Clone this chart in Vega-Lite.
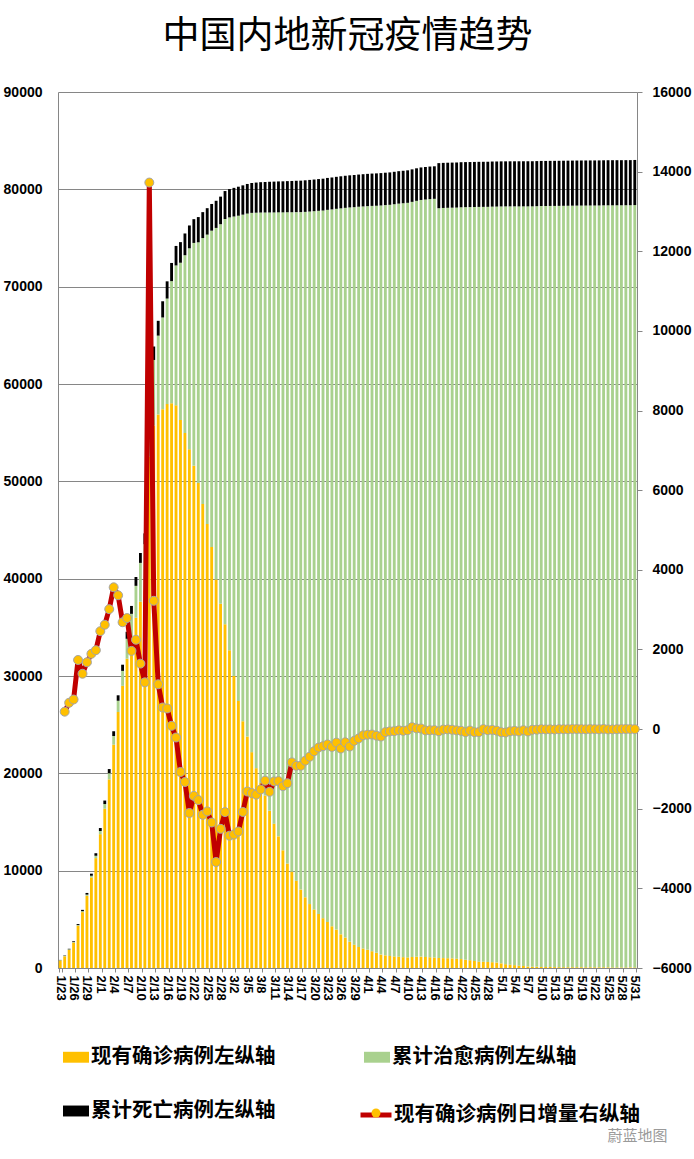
{
  "$schema": "https://vega.github.io/schema/vega-lite/v6.json",
  "width": 579,
  "height": 876,
  "autosize": {"type": "none"},
  "padding": {"left": 58, "top": 92, "right": 57, "bottom": 191},
  "background": "white",
  "title": {"text": "中国内地新冠疫情趋势", "font": "Noto Sans CJK SC", "fontSize": 37, "fontWeight": "normal", "color": "#000000", "anchor": "middle", "frame": "group", "offset": 29},
  "config": {"view": {"stroke": null}, "font": "Liberation Sans", "legend": {"padding": 0}},
  "data": {"values": [
    {"d":"1/23","s1":771,"s2":34,"s3":25},
    {"d":"1/24","s1":1208,"s2":38,"s3":41,"inc":437},
    {"d":"1/25","s1":1870,"s2":49,"s3":56,"inc":662},
    {"d":"1/26","s1":2613,"s2":51,"s3":80,"inc":743},
    {"d":"1/27","s1":4349,"s2":60,"s3":106,"inc":1736},
    {"d":"1/28","s1":5739,"s2":103,"s3":132,"inc":1390},
    {"d":"1/29","s1":7417,"s2":124,"s3":170,"inc":1678},
    {"d":"1/30","s1":9308,"s2":171,"s3":213,"inc":1891},
    {"d":"1/31","s1":11289,"s2":243,"s3":259,"inc":1981},
    {"d":"2/1","s1":13748,"s2":328,"s3":304,"inc":2459},
    {"d":"2/2","s1":16369,"s2":475,"s3":361,"inc":2621},
    {"d":"2/3","s1":19381,"s2":632,"s3":425,"inc":3012},
    {"d":"2/4","s1":22942,"s2":892,"s3":490,"inc":3561},
    {"d":"2/5","s1":26302,"s2":1153,"s3":563,"inc":3360},
    {"d":"2/6","s1":28985,"s2":1540,"s3":636,"inc":2683},
    {"d":"2/7","s1":31774,"s2":2050,"s3":722,"inc":2789},
    {"d":"2/8","s1":33738,"s2":2649,"s3":811,"inc":1964},
    {"d":"2/9","s1":35982,"s2":3281,"s3":908,"inc":2244},
    {"d":"2/10","s1":37626,"s2":3996,"s3":1016,"inc":1644},
    {"d":"2/11","s1":38800,"s2":4740,"s3":1113,"inc":1174},
    {"d":"2/12","s1":52526,"s2":5911,"s3":1367,"inc":13726},
    {"d":"2/13","s1":55748,"s2":6723,"s3":1380,"inc":3222},
    {"d":"2/14","s1":56873,"s2":8096,"s3":1523,"inc":1125},
    {"d":"2/15","s1":57416,"s2":9419,"s3":1665,"inc":543},
    {"d":"2/16","s1":57934,"s2":10844,"s3":1770,"inc":518},
    {"d":"2/17","s1":58016,"s2":12552,"s3":1868,"inc":82},
    {"d":"2/18","s1":57805,"s2":14376,"s3":2004,"inc":-211},
    {"d":"2/19","s1":56303,"s2":16155,"s3":2118,"inc":-1077},
    {"d":"2/20","s1":54965,"s2":18264,"s3":2236,"inc":-1329},
    {"d":"2/21","s1":53284,"s2":20659,"s3":2345,"inc":-2107},
    {"d":"2/22","s1":51606,"s2":22888,"s3":2442,"inc":-1678},
    {"d":"2/23","s1":49824,"s2":24734,"s3":2592,"inc":-1782},
    {"d":"2/24","s1":47672,"s2":27323,"s3":2663,"inc":-2152},
    {"d":"2/25","s1":45604,"s2":29745,"s3":2715,"inc":-2068},
    {"d":"2/26","s1":43258,"s2":32495,"s3":2744,"inc":-2346},
    {"d":"2/27","s1":39919,"s2":36117,"s3":2788,"inc":-3339},
    {"d":"2/28","s1":37414,"s2":39002,"s3":2835,"inc":-2505},
    {"d":"2/29","s1":35329,"s2":41625,"s3":2870,"inc":-2085},
    {"d":"3/1","s1":32652,"s2":44462,"s3":2912,"inc":-2677},
    {"d":"3/2","s1":30004,"s2":47204,"s3":2943,"inc":-2648},
    {"d":"3/3","s1":27433,"s2":49856,"s3":2981,"inc":-2571},
    {"d":"3/4","s1":25352,"s2":52045,"s3":3012,"inc":-2081},
    {"d":"3/5","s1":23784,"s2":53726,"s3":3042,"inc":-1568},
    {"d":"3/6","s1":22177,"s2":55404,"s3":3070,"inc":-1607},
    {"d":"3/7","s1":20533,"s2":57065,"s3":3097,"inc":-1644},
    {"d":"3/8","s1":19016,"s2":58600,"s3":3119,"inc":-1517},
    {"d":"3/9","s1":17721,"s2":59897,"s3":3136,"inc":-1295},
    {"d":"3/10","s1":16145,"s2":61475,"s3":3158,"inc":-1576},
    {"d":"3/11","s1":14831,"s2":62793,"s3":3169,"inc":-1314},
    {"d":"3/12","s1":13526,"s2":64111,"s3":3176,"inc":-1305},
    {"d":"3/13","s1":12094,"s2":65541,"s3":3189,"inc":-1432},
    {"d":"3/14","s1":10734,"s2":66911,"s3":3199,"inc":-1360},
    {"d":"3/15","s1":9898,"s2":67749,"s3":3213,"inc":-836},
    {"d":"3/16","s1":8976,"s2":68679,"s3":3226,"inc":-922},
    {"d":"3/17","s1":8056,"s2":69601,"s3":3237,"inc":-920},
    {"d":"3/18","s1":7263,"s2":70420,"s3":3245,"inc":-793},
    {"d":"3/19","s1":6569,"s2":71150,"s3":3248,"inc":-694},
    {"d":"3/20","s1":6013,"s2":71740,"s3":3255,"inc":-556},
    {"d":"3/21","s1":5549,"s2":72244,"s3":3261,"inc":-464},
    {"d":"3/22","s1":5120,"s2":72703,"s3":3270,"inc":-429},
    {"d":"3/23","s1":4735,"s2":73159,"s3":3277,"inc":-385},
    {"d":"3/24","s1":4287,"s2":73650,"s3":3281,"inc":-448},
    {"d":"3/25","s1":3947,"s2":74051,"s3":3287,"inc":-340},
    {"d":"3/26","s1":3460,"s2":74588,"s3":3292,"inc":-487},
    {"d":"3/27","s1":3128,"s2":74971,"s3":3295,"inc":-332},
    {"d":"3/28","s1":2691,"s2":75448,"s3":3300,"inc":-437},
    {"d":"3/29","s1":2396,"s2":75770,"s3":3304,"inc":-295},
    {"d":"3/30","s1":2161,"s2":76052,"s3":3305,"inc":-235},
    {"d":"3/31","s1":2004,"s2":76238,"s3":3312,"inc":-157},
    {"d":"4/1","s1":1863,"s2":76408,"s3":3318,"inc":-141},
    {"d":"4/2","s1":1727,"s2":76571,"s3":3322,"inc":-136},
    {"d":"4/3","s1":1562,"s2":76751,"s3":3326,"inc":-165},
    {"d":"4/4","s1":1376,"s2":76964,"s3":3329,"inc":-186},
    {"d":"4/5","s1":1299,"s2":77078,"s3":3331,"inc":-77},
    {"d":"4/6","s1":1242,"s2":77167,"s3":3331,"inc":-57},
    {"d":"4/7","s1":1190,"s2":77279,"s3":3333,"inc":-52},
    {"d":"4/8","s1":1160,"s2":77370,"s3":3335,"inc":-30},
    {"d":"4/9","s1":1116,"s2":77455,"s3":3336,"inc":-44},
    {"d":"4/10","s1":1089,"s2":77525,"s3":3339,"inc":-27},
    {"d":"4/11","s1":1138,"s2":77575,"s3":3339,"inc":49},
    {"d":"4/12","s1":1156,"s2":77663,"s3":3341,"inc":18},
    {"d":"4/13","s1":1170,"s2":77738,"s3":3341,"inc":14},
    {"d":"4/14","s1":1137,"s2":77816,"s3":3342,"inc":-33},
    {"d":"4/15","s1":1107,"s2":77892,"s3":3342,"inc":-30},
    {"d":"4/16","s1":1081,"s2":77944,"s3":3342,"inc":-26},
    {"d":"4/17","s1":1027,"s2":77033,"s3":4632,"inc":-54},
    {"d":"4/18","s1":1015,"s2":77072,"s3":4632,"inc":-12},
    {"d":"4/19","s1":1007,"s2":77096,"s3":4632,"inc":-8},
    {"d":"4/20","s1":991,"s2":77124,"s3":4632,"inc":-16},
    {"d":"4/21","s1":959,"s2":77167,"s3":4632,"inc":-32},
    {"d":"4/22","s1":915,"s2":77241,"s3":4632,"inc":-44},
    {"d":"4/23","s1":838,"s2":77328,"s3":4632,"inc":-77},
    {"d":"4/24","s1":801,"s2":77371,"s3":4632,"inc":-37},
    {"d":"4/25","s1":723,"s2":77461,"s3":4632,"inc":-78},
    {"d":"4/26","s1":648,"s2":77546,"s3":4633,"inc":-75},
    {"d":"4/27","s1":647,"s2":77550,"s3":4633,"inc":-1},
    {"d":"4/28","s1":619,"s2":77584,"s3":4633,"inc":-28},
    {"d":"4/29","s1":599,"s2":77626,"s3":4633,"inc":-20},
    {"d":"4/30","s1":559,"s2":77670,"s3":4633,"inc":-40},
    {"d":"5/1","s1":481,"s2":77760,"s3":4633,"inc":-78},
    {"d":"5/2","s1":395,"s2":77849,"s3":4633,"inc":-86},
    {"d":"5/3","s1":339,"s2":77908,"s3":4633,"inc":-56},
    {"d":"5/4","s1":295,"s2":77953,"s3":4633,"inc":-44},
    {"d":"5/5","s1":236,"s2":78014,"s3":4633,"inc":-59},
    {"d":"5/6","s1":208,"s2":78044,"s3":4633,"inc":-28},
    {"d":"5/7","s1":148,"s2":78105,"s3":4633,"inc":-60},
    {"d":"5/8","s1":131,"s2":78123,"s3":4633,"inc":-17},
    {"d":"5/9","s1":116,"s2":78152,"s3":4633,"inc":-15},
    {"d":"5/10","s1":115,"s2":78170,"s3":4633,"inc":-1},
    {"d":"5/11","s1":107,"s2":78179,"s3":4633,"inc":-8},
    {"d":"5/12","s1":101,"s2":78192,"s3":4633,"inc":-6},
    {"d":"5/13","s1":91,"s2":78205,"s3":4633,"inc":-10},
    {"d":"5/14","s1":89,"s2":78211,"s3":4633,"inc":-2},
    {"d":"5/15","s1":86,"s2":78222,"s3":4633,"inc":-3},
    {"d":"5/16","s1":82,"s2":78231,"s3":4634,"inc":-4},
    {"d":"5/17","s1":84,"s2":78236,"s3":4634,"inc":2},
    {"d":"5/18","s1":85,"s2":78241,"s3":4634,"inc":1},
    {"d":"5/19","s1":85,"s2":78246,"s3":4634,"inc":0},
    {"d":"5/20","s1":79,"s2":78254,"s3":4634,"inc":-6},
    {"d":"5/21","s1":80,"s2":78257,"s3":4634,"inc":1},
    {"d":"5/22","s1":79,"s2":78258,"s3":4634,"inc":-1},
    {"d":"5/23","s1":74,"s2":78266,"s3":4634,"inc":-5},
    {"d":"5/24","s1":78,"s2":78273,"s3":4634,"inc":4},
    {"d":"5/25","s1":70,"s2":78288,"s3":4634,"inc":-8},
    {"d":"5/26","s1":63,"s2":78296,"s3":4634,"inc":-7},
    {"d":"5/27","s1":61,"s2":78300,"s3":4634,"inc":-2},
    {"d":"5/28","s1":61,"s2":78300,"s3":4634,"inc":0},
    {"d":"5/29","s1":63,"s2":78302,"s3":4634,"inc":2},
    {"d":"5/30","s1":65,"s2":78302,"s3":4634,"inc":2},
    {"d":"5/31","s1":64,"s2":78319,"s3":4634,"inc":-1}
  ]},
  "layer": [
    {
      "transform": [{"fold": ["s1", "s2", "s3"], "as": ["series", "value"]}],
      "mark": {"type": "bar"},
      "encoding": {
        "x": {
          "field": "d", "type": "ordinal", "sort": null,
          "scale": {"paddingInner": 0.36, "paddingOuter": 0.18},
          "axis": {
            "values": ["1/23","1/26","1/29","2/1","2/4","2/7","2/10","2/13","2/16","2/19","2/22","2/25","2/28","3/2","3/5","3/8","3/11","3/14","3/17","3/20","3/23","3/26","3/29","4/1","4/4","4/7","4/10","4/13","4/16","4/19","4/22","4/25","4/28","5/1","5/4","5/7","5/10","5/13","5/16","5/19","5/22","5/25","5/28","5/31"],
            "labelAngle": 90, "labelAlign": "left", "labelBaseline": "middle",
            "labelFont": "Liberation Sans", "labelFontSize": 13, "labelFontWeight": "bold", "labelColor": "#000000",
            "labelPadding": 3, "labelOverlap": false, "tickBand": "extent", "tickSize": 4, "tickColor": "#868686",
            "domainColor": "#868686", "grid": false,
            "title": "蔚蓝地图", "titleFont": "Noto Sans CJK SC", "titleFontSize": 15, "titleFontWeight": "normal",
            "titleColor": "#9A9A9A", "titleX": 579, "titleY": 167, "titleAlign": "center", "titleBaseline": "middle", "titleAngle": 0
          }
        },
        "y": {
          "field": "value", "type": "quantitative", "stack": "zero",
          "scale": {"domain": [0, 90000], "nice": false},
          "axis": {
            "values": [0,10000,20000,30000,40000,50000,60000,70000,80000,90000], "format": "d",
            "labelFont": "Liberation Sans", "labelFontSize": 14, "labelFontWeight": "bold", "labelColor": "#000000",
            "ticks": false, "labelPadding": 16, "labelFlush": false, "domainColor": "#868686",
            "grid": true, "gridColor": "#868686", "gridWidth": 1, "title": null
          }
        },
        "order": {"field": "series", "type": "ordinal", "sort": "ascending"},
        "color": {
          "field": "series", "type": "nominal",
          "scale": {"domain": ["s1", "s2", "s3"], "range": ["#FFC000", "#A9D18E", "#000000"]},
          "legend": {
            "orient": "none", "legendX": 5, "legendY": 952, "direction": "horizontal", "columns": 2, "columnPadding": 88, "rowPadding": 30,
            "symbolType": "M-1,-0.42H1V0.42H-1Z", "symbolSize": 676, "symbolStrokeWidth": 0, "symbolOpacity": 1,
            "labelFont": "Noto Sans CJK SC", "labelFontSize": 20.5, "labelFontWeight": "bold", "labelColor": "#000000",
            "labelLimit": 400, "labelOffset": 2, "title": null,
            "labelExpr": "datum.label == 's1' ? '现有确诊病例左纵轴' : datum.label == 's2' ? '累计治愈病例左纵轴' : '累计死亡病例左纵轴'"
          }
        }
      }
    },
    {
      "transform": [{"filter": "isValid(datum.inc)"}],
      "encoding": {
        "x": {"field": "d", "type": "ordinal", "sort": null},
        "y": {
          "field": "inc", "type": "quantitative",
          "scale": {"domain": [-6000, 16000], "nice": false},
          "axis": {
            "orient": "right",
            "values": [-6000,-4000,-2000,0,2000,4000,6000,8000,10000,12000,14000,16000], "format": "d",
            "labelFont": "Liberation Sans", "labelFontSize": 14, "labelFontWeight": "bold", "labelColor": "#000000",
            "tickSize": 5, "tickColor": "#868686", "labelPadding": 10, "labelFlush": false,
            "domainColor": "#868686", "grid": false, "title": null
          }
        }
      },
      "layer": [
        {
          "mark": {"type": "line", "strokeWidth": 5, "strokeJoin": "round"},
          "encoding": {
            "stroke": {
              "datum": "现有确诊病例日增量右纵轴",
              "scale": {"domain": ["现有确诊病例日增量右纵轴"], "range": ["#C00000"]},
              "legend": {
                "orient": "none", "legendX": 300, "legendY": 1005, "symbolType": "stroke", "symbolSize": 961,
                "symbolStrokeWidth": 5, "title": null,
                "labelFont": "Noto Sans CJK SC", "labelFontSize": 20.5, "labelFontWeight": "bold", "labelColor": "#000000",
                "labelLimit": 400, "labelOffset": 0
              }
            }
          }
        },
        {
          "mark": {"type": "point", "filled": true, "fill": "#FFC000", "stroke": "#A5A5A5", "strokeWidth": 1, "size": 80, "opacity": 1},
          "encoding": {
            "shape": {
              "datum": "pt",
              "scale": {"domain": ["pt"], "range": ["circle"]},
              "legend": {
                "orient": "none", "legendX": 313, "legendY": 1016, "symbolSize": 80,
                "symbolFillColor": "#FFC000", "symbolStrokeColor": "#A5A5A5", "symbolStrokeWidth": 1, "symbolOpacity": 1,
                "title": null, "labelExpr": "''", "labelFontSize": 1
              }
            }
          }
        }
      ]
    }
  ],
  "resolve": {"scale": {"y": "independent"}}
}
